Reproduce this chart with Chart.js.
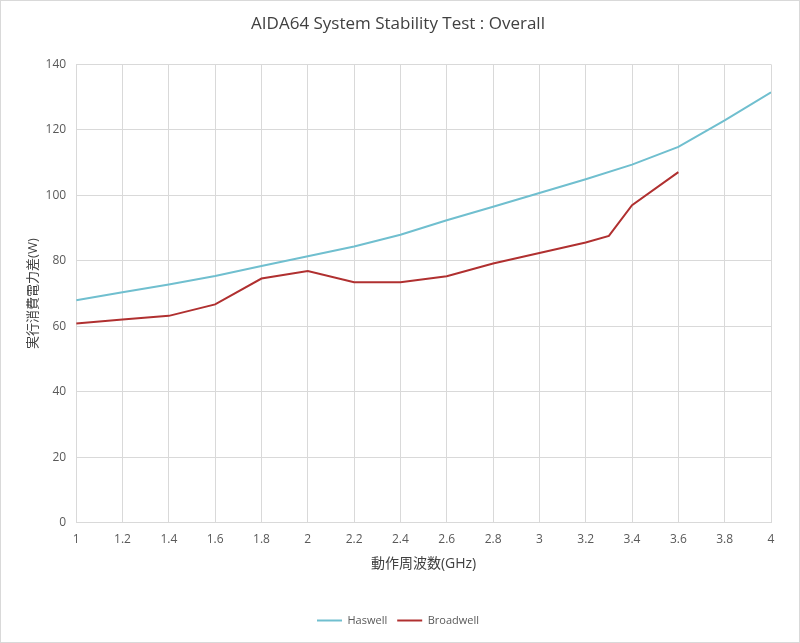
<!DOCTYPE html>
<html>
<head>
<meta charset="utf-8">
<script src="https://cdn.jsdelivr.net/npm/chart.js@4"></script>
<style>
  html, body { margin: 0; padding: 0; background: #fff; }
  #wrap { width: 800px; height: 643px; box-sizing: border-box; border: 1px solid #d9d9d9; }
  canvas { display: block; }
</style>
</head>
<body>
<div id="wrap"><canvas id="chart" width="798" height="641"></canvas></div>
<script>
// Data
const haswellGHz = [1, 1.2, 1.4, 1.6, 1.8, 2, 2.2, 2.4, 2.6, 2.8, 3, 3.2, 3.4, 3.6, 3.8, 4];
const haswellW   = [68.0, 70.4, 72.8, 75.4, 78.4, 81.4, 84.4, 88.0, 92.4, 96.5, 100.7, 104.9, 109.4, 114.8, 122.9, 131.5];
const broadwellGHz = [1, 1.2, 1.4, 1.6, 1.8, 2, 2.2, 2.4, 2.6, 2.8, 3, 3.2, 3.3, 3.4, 3.6];
const broadwellW   = [60.9, 62.1, 63.2, 66.7, 74.6, 76.9, 73.5, 73.5, 75.3, 79.2, 82.4, 85.6, 87.6, 97.0, 107.1];

const textColor = '#595959';
const gridColor = '#d9d9d9';
const jpFont = "'Open Sans', 'Noto Sans CJK JP', sans-serif";

const toPoints = (xs, ys) => xs.map((x, i) => ({ x: x, y: ys[i] }));

const ctx = document.getElementById('chart').getContext('2d');
const chart = new Chart(ctx, {
    type: 'line',
    data: {
        datasets: [
            { label: 'Haswell', data: toPoints(haswellGHz, haswellW), borderColor: '#70bfcf', backgroundColor: '#70bfcf', borderWidth: 2, pointRadius: 0, tension: 0 },
            { label: 'Broadwell', data: toPoints(broadwellGHz, broadwellW), borderColor: '#b03030', backgroundColor: '#b03030', borderWidth: 2, pointRadius: 0, tension: 0 }
        ]
    },
    options: {
        responsive: false,
        animation: false,
        layout: { padding: { left: 24, right: 28, top: 0, bottom: 6 } },
        plugins: {
            title: {
                display: true,
                text: 'AIDA64 System Stability Test : Overall',
                color: '#404040',
                font: { family: jpFont, size: 17, weight: 'normal' },
                padding: { top: 13, bottom: 30 }
            },
            legend: {
                position: 'bottom',
                labels: {
                    color: textColor,
                    font: { family: jpFont, size: 11 },
                    usePointStyle: true,
                    pointStyle: 'line',
                    pointStyleWidth: 25,
                    padding: 10
                }
            },
            tooltip: { enabled: false }
        },
        scales: {
            x: {
                type: 'linear',
                min: 1, max: 4,
                border: { color: gridColor },
                grid: { color: gridColor, drawTicks: false },
                ticks: {
                    stepSize: 0.2,
                    color: textColor,
                    font: { family: jpFont, size: 12 },
                    padding: 10,
                    maxRotation: 0,
                    callback: v => String(parseFloat(v.toFixed(1)))
                },
                title: {
                    display: true,
                    text: '動作周波数(GHz)',
                    color: '#404040',
                    font: { family: jpFont, size: 14 },
                    padding: { top: -2, bottom: 33 }
                }
            },
            y: {
                min: 0, max: 140,
                border: { color: gridColor },
                grid: { color: gridColor, drawTicks: false },
                ticks: {
                    stepSize: 20,
                    color: textColor,
                    font: { family: jpFont, size: 12 },
                    padding: 10
                },
                title: {
                    display: true,
                    text: '実行消費電力差(W)',
                    color: '#404040',
                    font: { family: jpFont, size: 13 },
                    padding: { top: 0, bottom: -5 }
                }
            }
        }
    }
});
</script>
</body>
</html>
